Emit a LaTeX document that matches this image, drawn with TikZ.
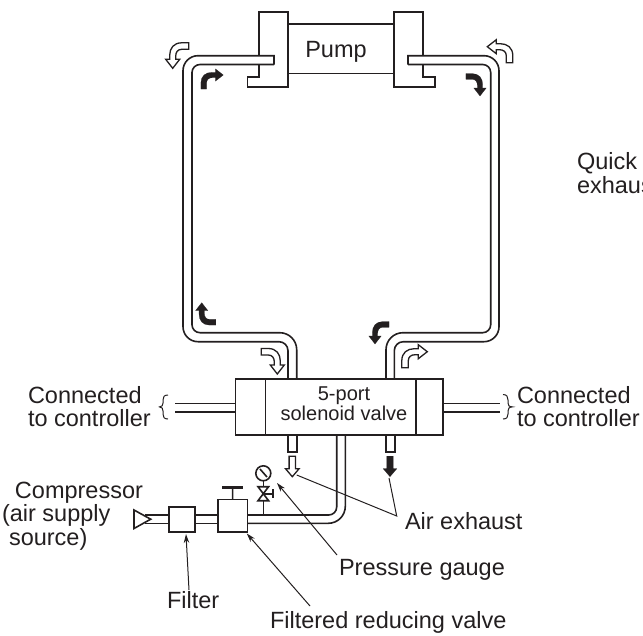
\documentclass[tikz,border=0pt]{standalone}
\usepackage{fontspec}
\setmainfont{Liberation Sans}
\usetikzlibrary{arrows.meta}
\definecolor{ink}{HTML}{231F20}
\tikzset{
  pipe/.style={draw=ink,line width=1.6pt,line join=miter},
  box/.style={draw=ink,line width=1.6pt,fill=white,inner sep=0pt,outer sep=0pt},
  txt/.style={text=ink,inner sep=0pt,outer sep=0pt,align=left,font=\fontsize{23.5}{23.5}\selectfont},
  smalltxt/.style={text=ink,inner sep=0pt,outer sep=0pt,align=center,font=\fontsize{20}{19.5}\selectfont},
  leader/.style={draw=ink,line width=1pt},
  leaderarrow/.style={leader,-{Stealth[length=9pt,width=5.5pt]}},
  brace/.style={draw=ink,line width=1pt},
  openarrow/.style={draw=ink,line width=1.3pt,fill=white,line join=miter},
  solidarrow/.style={draw=ink,line width=0.2pt,fill=ink,line join=miter},
}
\newcommand{\bentarrow}[4]{%
  \path[#1,shift={(#2)},x={#3},y={#4}]
    (0,0) -- (7,-9) -- (3,-9) -- (3,-12)
    .. controls (3,-16) and (5,-19) .. (9,-19) -- (16,-19) -- (16,-25.5) -- (9,-25.5)
    .. controls (1,-25.5) and (-3,-20) .. (-3,-13) -- (-3,-9) -- (-7,-9) -- cycle;}
\newcommand{\downarrowshape}[3]{%
  \path[#1,shift={(#2,#3)}]
    (0,0) -- (6.8,-8) -- (3.2,-8) -- (3.2,-20.5) -- (-3.2,-20.5) -- (-3.2,-8) -- (-6.8,-8) -- cycle;}
\begin{document}
\begin{tikzpicture}[x=1pt,y=-1pt]
\useasboundingbox (0,0) rectangle (643,635);
% pump
\node[box,minimum width=106pt,minimum height=49.5pt] (pump) at (341,48.8) {};
\node[txt,anchor=base] (pumplabel) at (336,57) {Pump};
\draw[pipe] (259,55.7) -- (259,12) -- (288,12) -- (288,87) -- (247.5,87) -- (247.5,77) -- (259,77) -- (259,64.5);
\draw[pipe] (422.7,55.7) -- (422.7,12) -- (394,12) -- (394,87) -- (435,87) -- (435,77) -- (422.7,77) -- (422.7,64.5);
% left tube
\draw[pipe] (274,64.5) -- (274,55.7) [rounded corners=15pt] -- (183,55.7) -- (183,341.7) [rounded corners=9pt] -- (288,341.7) [sharp corners] -- (288,378.7);
\draw[pipe] (274,64.5) [rounded corners=8pt] -- (192,64.5) -- (192,332.7) [rounded corners=17pt] -- (296.7,332.7) [sharp corners] -- (296.7,378.7);
% right tube
\draw[pipe] (408,64.5) -- (408,55.7) [rounded corners=15pt] -- (499,55.7) -- (499,341.7) [rounded corners=9pt] -- (394.3,341.7) [sharp corners] -- (394.3,378.7);
\draw[pipe] (408,64.5) [rounded corners=8pt] -- (490.7,64.5) -- (490.7,332.7) [rounded corners=17pt] -- (386,332.7) [sharp corners] -- (386,378.7);
% control lines
\coordinate (cl1) at (175,403.3); \coordinate (cl2) at (175,412);
\coordinate (cr1) at (500,403.3); \coordinate (cr2) at (500,412);
% valve
\node[box,minimum width=207.4pt,minimum height=56pt] (valve) at (339,406.7) {};
\draw[pipe] (265.3,378.7) -- (265.3,434.7);
\draw[pipe] (416,378.7) -- (416,434.7);
\draw[pipe] (cl1) -- (valve.west |- cl1);
\draw[pipe] (cl2) -- (valve.west |- cl2);
\draw[pipe] (valve.east |- cr1) -- (cr1);
\draw[pipe] (valve.east |- cr2) -- (cr2);
\node[smalltxt,anchor=base] (valvelabel) at (344,420) {5-port\\solenoid valve};
% braces
\draw[brace] (168,395) .. controls (164,395) and (163,397) .. (163,400) -- (163,403) .. controls (163,405.5) and (162,406.7) .. (159.5,406.9) .. controls (162,407.1) and (163,408.5) .. (163,411) -- (163,414) .. controls (163,417) and (164,419) .. (168,419);
\draw[brace] (503,394.5) .. controls (507,394.5) and (508,397) .. (508,400) -- (508,403) .. controls (508,405.5) and (509,406.7) .. (512.5,406.9) .. controls (509,407.1) and (508,408.5) .. (508,411) -- (508,414) .. controls (508,417) and (507,419) .. (503,419);
% exhaust stubs
\draw[pipe] (287.7,434.7) -- (287.7,452) -- (296.7,452) -- (296.7,434.7);
\draw[pipe] (386,434.7) -- (386,452) -- (395,452) -- (395,434.7);
% supply tube
\draw[pipe] (336.7,434.7) [rounded corners=8pt] -- (336.7,515) [sharp corners] -- (247.3,515);
\draw[pipe] (345.3,434.7) [rounded corners=17pt] -- (345.3,523.3) [sharp corners] -- (247.3,523.3);
\draw[pipe] (194.7,515) -- (218,515);
\draw[pipe] (194.7,523.3) -- (218,523.3);
\draw[pipe] (145,515) -- (168.7,515);
\draw[pipe] (145,523.3) -- (168.7,523.3);
% compressor nozzle
\node[box,minimum width=26pt,minimum height=25.3pt] (filter) at (181.7,519.4) {};
\node[box,minimum width=29.3pt,minimum height=32.4pt] (reducer) at (232.65,515.5) {};
\draw[pipe,fill=white] (134,510) -- (134,528.5) -- (150.7,519.2) -- cycle;
\draw[pipe] (reducer.north) -- (232.7,488);
\draw[draw=ink,line width=2.4pt] (222,487.5) -- (243,487.5);
% gauge
\node[box,circle,minimum size=15pt] (gauge) at (263.3,473.3) {};
\draw[pipe] (260,469) -- (267,477);
\draw[pipe] (gauge.south) -- (263.3,486.7);
\draw[pipe,line join=miter] (258,486.7) -- (268.6,486.7) -- (258,500.7) -- (268.6,500.7) -- cycle;
\draw[pipe] (263.3,493.7) -- (273,493.7);
\draw[pipe] (273,489) -- (273,498);
\draw[pipe] (263.3,500.7) -- (263.3,515);
% flow arrows
\bentarrow{openarrow}{172.7,68.3}{(1pt,0pt)}{(0pt,-1pt)}
\bentarrow{solidarrow}{223.3,75}{(0pt,-.88pt)}{(.88pt,0pt)}
\bentarrow{solidarrow}{480,96}{(-.88pt,0pt)}{(0pt,-.88pt)}
\bentarrow{openarrow}{487.3,46.7}{(0pt,-1pt)}{(-1pt,0pt)}
\bentarrow{solidarrow}{201.7,302.7}{(.88pt,0pt)}{(0pt,.88pt)}
\bentarrow{openarrow}{277.3,374}{(-1pt,0pt)}{(0pt,-1pt)}
\bentarrow{solidarrow}{375,344}{(.88pt,0pt)}{(0pt,-.88pt)}
\bentarrow{openarrow}{427.3,351.7}{(0pt,-1pt)}{(1pt,0pt)}
\downarrowshape{openarrow}{292.3}{476.7}
\downarrowshape{solidarrow}{390}{476.7}
% labels
\node[txt,anchor=base west] (lconn) at (28,426.7) {Connected\\to controller};
\node[txt,anchor=base west] (rconn) at (517,426.7) {Connected\\to controller};
\node[txt,anchor=base west] (comp) at (2,545) {\hspace*{13pt}Compressor\\(air supply\\\hspace*{7pt}source)};
\node[txt,anchor=base west] (filterlabel) at (167,608) {Filter};
\node[txt,anchor=base west] (gaugelabel) at (339,575) {Pressure gauge};
\node[txt,anchor=base west] (reducerlabel) at (270,628) {Filtered reducing valve};
\node[txt,anchor=base west] (exhaustlabel) at (405,529) {Air exhaust};
\node[txt,anchor=base west] (quick) at (577,193) {Quick\\exhaus};
% leaders
\coordinate (fend) at (186,534);
\coordinate (rend) at (246.8,533.5);
\coordinate (gend) at (277,483);
\coordinate (ex) at (396.7,516);
\coordinate (exl) at (296.7,475);
\coordinate (exr) at (389,478);
\draw[leaderarrow] (189,590) -- (fend);
\draw[leaderarrow] (310,606) -- (rend);
\draw[leaderarrow] (337,555) -- (gend);
\draw[leader] (exl) -- (ex) -- (exr);
\end{tikzpicture}
\end{document}
